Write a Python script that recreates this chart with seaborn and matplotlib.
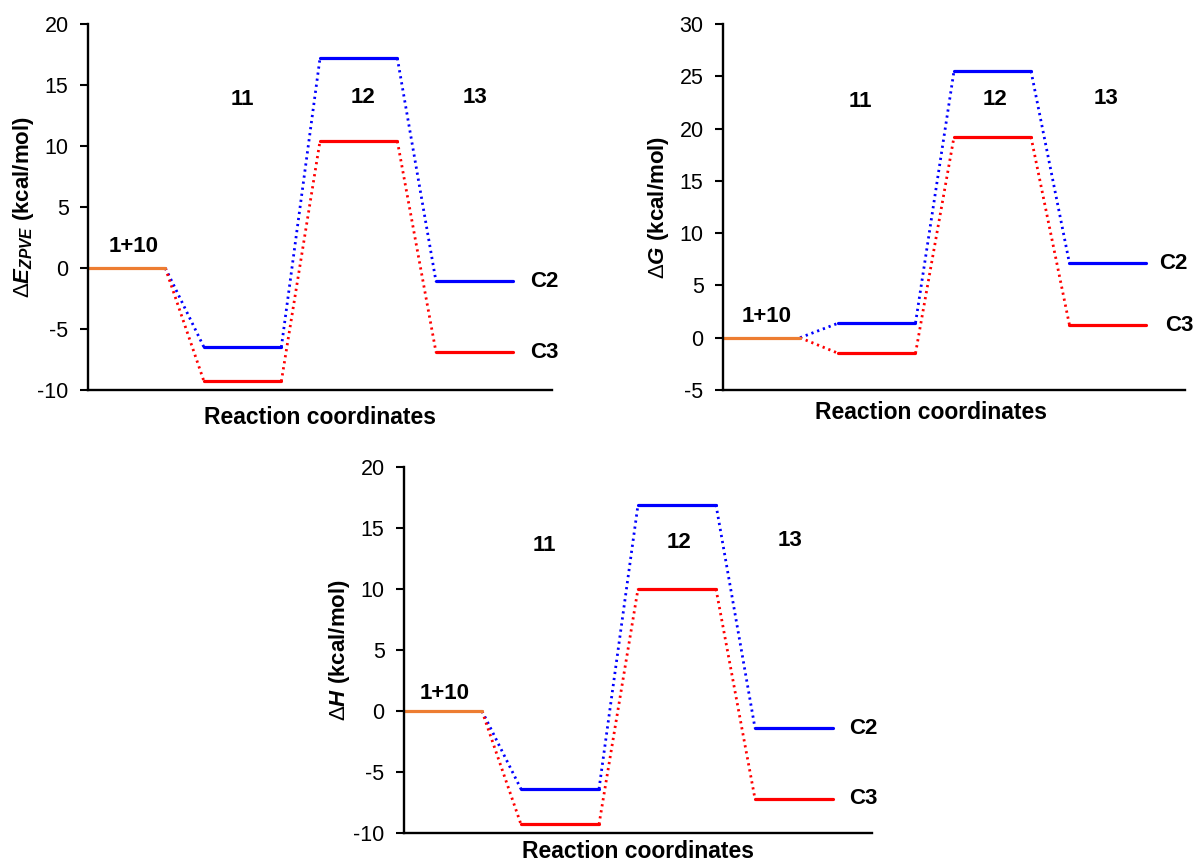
import pandas as pd
import seaborn as sns
import matplotlib.pyplot as plt

# relative energies (kcal/mol) for each state along the reaction path
states = ["1+10", "11", "12", "13"]
e_zpve_c2 = [0, -6.5, 17.2, -1.1]
e_zpve_c3 = [0, -9.3, 10.4, -6.9]
g_c2 = [0, 1.4, 25.5, 7.1]
g_c3 = [0, -1.5, 19.2, 1.2]
h_c2 = [0, -6.4, 16.9, -1.4]
h_c3 = [0, -9.3, 10.0, -7.2]
series_names = ["C2", "C3"]

sns.set_style("white")
plt.rcParams["font.family"] = ["Liberation Sans", "DejaVu Sans"]
plt.rcParams["axes.unicode_minus"] = False
plt.rcParams["mathtext.fontset"] = "custom"
plt.rcParams["mathtext.rm"] = "Liberation Sans"
plt.rcParams["mathtext.it"] = "Liberation Sans:italic:bold"
plt.rcParams["mathtext.bf"] = "Liberation Sans:bold"
for key in ("text.color", "axes.labelcolor", "xtick.color", "ytick.color"):
    plt.rcParams[key] = "black"

colors = {"ref": "#ED7D31", "C2": "#0000FF", "C3": "#FF0000"}


def build_frames(c2, c3):
    """Level (plateau) rows and dotted connector rows for one profile."""
    levels, links = [], []
    seg = 0
    for name, vals in zip(series_names, [c2, c3]):
        for i, v in enumerate(vals):
            if i == 0 and name == "C3":
                continue  # shared reference level, drawn once
            key = "ref" if i == 0 else name
            for x in (3 * i, 3 * i + 2):
                levels.append({"x": x, "y": v, "series": key, "seg": seg})
            seg += 1
        for i in range(len(vals) - 1):
            links.append({"x": 3 * i + 2, "y": vals[i], "series": name, "seg": seg})
            links.append({"x": 3 * i + 3, "y": vals[i + 1], "series": name, "seg": seg})
            seg += 1
    return pd.DataFrame(levels), pd.DataFrame(links)


def draw_profile(ax, c2, c3, ylim, yticks, ylabel, state_pos, c_x,
                 xlabel_x=0.5, xlabel_y=-0.045):
    levels, links = build_frames(c2, c3)
    sns.lineplot(data=links, x="x", y="y", hue="series", units="seg",
                 estimator=None, sort=False, palette=colors, lw=2.0,
                 linestyle=(0, (0.8, 1.4)), legend=False, ax=ax)
    sns.lineplot(data=levels, x="x", y="y", hue="series", units="seg",
                 estimator=None, sort=False, palette=colors, lw=2.3,
                 legend=False, ax=ax)
    ax.set_xlim(0, 12)
    ax.set_ylim(*ylim)
    ax.set_yticks(yticks)
    ax.set_xticks([])
    sns.despine(ax=ax)
    for side in ("left", "bottom"):
        ax.spines[side].set_linewidth(1.7)
        ax.spines[side].set_color("black")
    ax.tick_params(axis="y", direction="out", length=6, width=1.5, pad=8,
                   labelsize=15.5, left=True, colors="black")
    ax.set_ylabel(ylabel, fontsize=16, fontweight="bold")
    ax.yaxis.set_label_coords(-52 / (ax.get_position().width * 1195), 0.5)
    ax.set_xlabel("Reaction coordinates", fontsize=16.5, fontweight="bold")
    ax.xaxis.set_label_coords(xlabel_x, xlabel_y)
    ax.xaxis.label.set_va("top")
    for name, (x, y) in zip(states, state_pos):
        ax.text(x, y, name, ha="center", va="center", fontsize=16, fontweight="bold")
    for name, vals, x in zip(series_names, [c2, c3], c_x):
        ax.text(x, vals[-1], name, ha="center", va="center", fontsize=16, fontweight="bold")


W, H = 1195, 866
fig = plt.figure(figsize=(W / 100, H / 100), dpi=100)
ax1 = fig.add_axes([88 / W, 1 - 390 / H, 464 / W, 366 / H])
ax2 = fig.add_axes([723 / W, 1 - 390 / H, 462 / W, 366 / H])
ax3 = fig.add_axes([404 / W, 1 - 833 / H, 468 / W, 366 / H])

draw_profile(ax1, e_zpve_c2, e_zpve_c3, (-10, 20), range(-10, 21, 5),
             r"$\Delta\mathit{E}_{\mathit{ZPVE}}$ (kcal/mol)",
             [(1.17, 1.8), (4.0, 13.8), (7.1, 14.0), (10.0, 14.0)], [11.8, 11.8])
draw_profile(ax2, g_c2, g_c3, (-5, 30), range(-5, 31, 5),
             r"$\Delta\mathit{G}$ (kcal/mol)",
             [(1.14, 2.0), (3.56, 22.6), (7.07, 22.8), (9.95, 22.9)], [11.7, 11.85],
             xlabel_x=0.45, xlabel_y=-0.03)
draw_profile(ax3, h_c2, h_c3, (-10, 20), range(-10, 21, 5),
             r"$\Delta\mathit{H}$ (kcal/mol)",
             [(1.05, 1.4), (3.6, 13.6), (7.05, 13.8), (9.9, 14.0)], [11.77, 11.77],
             xlabel_y=-0.02)

fig.savefig("out.png", dpi=100)
